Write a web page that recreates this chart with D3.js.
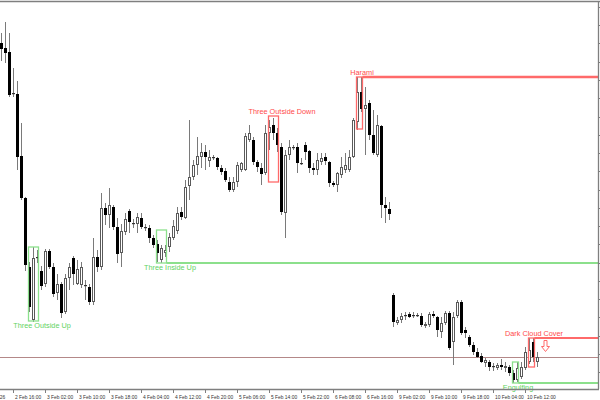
<!DOCTYPE html>
<html>
<head>
<meta charset="utf-8">
<script src="https://cdn.jsdelivr.net/npm/d3@7/dist/d3.min.js"></script>
<style>
  body { margin: 0; background: #fff; }
  svg { display: block; font-family: "Liberation Sans", Arial, sans-serif; }
</style>
</head>
<body>
<div id="chart"></div>
<script>
// hourly candles, prices in points above the lowest grid line (labels of the price scale are cut off in the picture)
var openP  = [329,324,320,279,278,216,174,105,52,114,101,88,121,105,79,88,60,94,114,88,
              87,87,85,70,115,105,164,157,165,145,119,140,161,149,148,154,145,144,134,128,
              112,119,125,134,141,160,154,186,195,207,215,220,211,215,214,204,201,190,182,190,
              202,202,232,232,210,204,199,239,247,239,225,159,217,225,225,209,227,221,204,202,
              210,215,210,189,187,197,202,202,215,250,280,263,269,237,217,246,167,163,77,49,
              52,56,58,57,57,56,46,47,58,55,40,49,59,30,56,70,42,35,27,20,
              16,9,10,6,4,7,4,5,-1,-8,-5,4,10,30,10];
var highP  = [339,350,339,304,291,249,175,110,125,122,106,123,123,109,98,90,98,109,116,112,
              110,92,88,134,122,179,169,184,167,154,148,159,163,153,159,159,148,147,137,132,
              127,127,139,152,165,165,192,252,212,235,229,227,222,217,215,207,204,195,195,210,
              210,239,247,235,212,209,247,252,254,244,229,222,232,227,229,214,230,222,209,219,
              219,219,211,191,200,215,219,222,254,295,295,285,272,262,257,247,175,170,79,55,
              59,60,60,60,59,59,50,60,61,56,55,61,61,60,72,72,45,37,30,24,
              19,14,12,9,9,13,10,7,2,10,10,25,34,34,20];
var lowP   = [311,309,275,275,202,172,101,60,50,109,82,85,103,75,72,54,58,82,87,87,
              84,72,67,67,100,102,147,144,142,109,105,137,139,144,139,143,141,129,124,110,
              109,115,120,132,138,152,153,172,192,197,204,202,205,212,202,197,190,180,180,185,
              200,201,230,207,200,187,197,222,232,220,157,134,212,222,199,207,212,199,197,197,
              207,207,185,185,180,194,199,200,214,242,260,217,232,217,215,154,149,152,45,47,
              49,52,54,54,55,45,44,45,54,35,34,47,22,7,54,37,34,25,17,14,
              9,5,1,1,2,2,0,-4,-11,-10,-7,2,8,10,5];
var closeP = [323,319,277,278,215,174,107,65,114,115,86,121,105,78,88,59,94,105,98,103,
              105,86,70,115,105,164,157,167,145,118,141,153,150,148,155,145,144,134,127,119,
              124,122,135,146,159,155,185,195,207,216,220,215,215,214,205,200,192,182,190,207,
              209,236,239,210,205,198,239,245,239,227,160,217,225,224,209,208,220,204,202,212,
              214,211,189,187,199,205,207,215,252,280,263,267,237,219,247,167,164,158,50,52,
              56,57,55,56,56,47,48,58,56,42,49,59,24,55,70,39,39,27,20,15,
              10,12,5,5,7,5,6,-1,-8,4,5,20,22,15,15];

// time axis: bar index of each tick and its label
var tickBars   = [-5,3,11,19,27,35,43,51,59,67,75,83,91,99,107,115,123,131];
var tickLabels = ['2 Feb 2026','2 Feb 16:00','3 Feb 02:00','3 Feb 10:00','3 Feb 18:00','4 Feb 04:00',
                  '4 Feb 12:00','4 Feb 20:00','5 Feb 06:00','5 Feb 14:00','5 Feb 22:00','6 Feb 08:00',
                  '6 Feb 16:00','9 Feb 02:00','9 Feb 10:00','9 Feb 18:00','10 Feb 04:00','10 Feb 12:00'];

// detected candle patterns
var patNames  = ['Three Outside Up','Three Inside Up','Three Outside Down','Harami','Engulfing','Dark Cloud Cover'];
var patFrom   = [7, 39, 67, 89, 128, 132];
var patTo     = [9, 41, 69, 90, 129, 133];
var patTop    = [125, 142, 256, 295, 10, 34];
var patBottom = [51, 109, 190, 243, -11, 5];
var patBull   = [true, true, false, false, true, false];
var patLevel  = [false, true, false, true, true, true];

var W = 600, H = 400;
var plotRight = 598, plotTop = 1, plotBottom = 389;

var svg = d3.select('#chart').append('svg')
    .attr('width', W)
    .attr('height', H)

var x = d3.scaleLinear().domain([0, 134]).range([1, 537])
var y = d3.scaleLinear().domain([0, 365]).range([372, 7])

var RED = '#ff6a6a', RED_TXT = '#ff4a4a', GREEN = '#8ce08c', GREEN_TXT = '#5fd35f';

var plot = svg.append('g')

// bid line (last close)
var bidY = Math.round(y(closeP[closeP.length-1])) + 0.5
plot.append('line')
    .attr('x1', 0).attr('x2', plotRight)
    .attr('y1', bidY).attr('y2', bidY)
    .attr('stroke', '#b48888')
    .attr('stroke-width', 1)

// candles
var bars = d3.range(openP.length)
var cg = plot.append('g')

bars.forEach(function(i){
    var cx = Math.round(x(i))
    cg.append('line')
        .attr('x1', cx + 0.5).attr('x2', cx + 0.5)
        .attr('y1', y(highP[i])).attr('y2', y(lowP[i]))
        .attr('stroke', '#7a7a7a')
        .attr('stroke-width', 1)

    var yo = y(openP[i]), yc = y(closeP[i])
    if (Math.abs(yo - yc) < 1.5){
        // doji
        cg.append('rect')
            .attr('x', cx - 1).attr('y', Math.min(yo, yc))
            .attr('width', 3).attr('height', 1.2)
            .attr('fill', '#333')
    } else if (closeP[i] < openP[i]){
        cg.append('rect')
            .attr('x', cx - 1).attr('y', yo)
            .attr('width', 3).attr('height', yc - yo)
            .attr('fill', '#000')
    } else {
        cg.append('rect')
            .attr('x', cx - 0.5).attr('y', yc + 0.5)
            .attr('width', 2).attr('height', Math.max(0, yo - yc - 1))
            .attr('fill', '#fff')
            .attr('stroke', '#5a5a5a')
            .attr('stroke-width', 1)
    }
})

// pattern boxes, levels and names
var pg = plot.append('g')
patNames.forEach(function(name, i){
    var col = patBull[i] ? GREEN : RED
    var tcol = patBull[i] ? GREEN_TXT : RED_TXT
    var x0 = x(patFrom[i]) - 0.5, x1 = x(patTo[i]) + 1.5
    var yt = y(patTop[i]), yb = y(patBottom[i])
    pg.append('rect')
        .attr('x', x0).attr('y', yt)
        .attr('width', x1 - x0).attr('height', yb - yt)
        .attr('fill', 'none')
        .attr('stroke', col)
        .attr('stroke-width', 1.3)
    if (patLevel[i]){
        var lv = patBull[i] ? yb : yt
        pg.append('line')
            .attr('x1', x1).attr('x2', plotRight)
            .attr('y1', lv).attr('y2', lv)
            .attr('stroke', col)
            .attr('stroke-width', name == 'Harami' ? 2.6 : 2)
    }
    var n = patTo[i] - patFrom[i] + 1
    var lx = x(patFrom[i] + 2*n - 2.75)
    pg.append('text')
        .attr('x', lx)
        .attr('y', patBull[i] ? yb + 7 : yt - 2)
        .attr('text-anchor', 'middle')
        .attr('fill', tcol)
        .style('font-size', '7.3px')
        .text(name)

    // sell arrow after dark cloud cover
    if (name == 'Dark Cloud Cover'){
        var ax = x(patTo[i] + 3) + 0.5, ay = yt + 2.5
        pg.append('path')
            .attr('d', 'M' + (ax-1.5) + ',' + ay + 'h3v6h2.5l-4,5l-4,-5h2.5z')
            .attr('fill', '#fff')
            .attr('stroke', RED)
            .attr('stroke-width', 1)
    }
})

// frame: top border, price axis, time axis
svg.append('line')
    .attr('x1', 0).attr('x2', W).attr('y1', plotTop + 0.5).attr('y2', plotTop + 0.5)
    .attr('stroke', '#7f7f7f').attr('stroke-width', 1.3)

svg.append('line')
    .attr('x1', plotRight + 0.5).attr('x2', plotRight + 0.5).attr('y1', plotTop).attr('y2', plotBottom)
    .attr('stroke', '#7f7f7f').attr('stroke-width', 1.3)

svg.append('g').selectAll('line')
    .data(d3.range(0, 366, 18.25))
    .enter().append('line')
    .attr('x1', plotRight).attr('x2', plotRight + 3)
    .attr('y1', d => Math.round(y(d)) + 0.5).attr('y2', d => Math.round(y(d)) + 0.5)
    .attr('stroke', '#7f7f7f')

svg.append('line')
    .attr('x1', 0).attr('x2', plotRight + 1).attr('y1', plotBottom + 0.5).attr('y2', plotBottom + 0.5)
    .attr('stroke', '#7f7f7f').attr('stroke-width', 1.3)

var tg = svg.append('g')
tickBars.forEach(function(b, i){
    var tx = Math.round(x(b)) + 0.5
    tg.append('line')
        .attr('x1', tx).attr('x2', tx).attr('y1', plotBottom).attr('y2', plotBottom + 4)
        .attr('stroke', '#7f7f7f')
    tg.append('text')
        .attr('x', tx + (i == 0 ? -1 : 1.5)).attr('y', plotBottom + 10)
        .attr('fill', '#333')
        .style('font-size', '4.9px')
        .text(tickLabels[i])
})
</script>
</body>
</html>
